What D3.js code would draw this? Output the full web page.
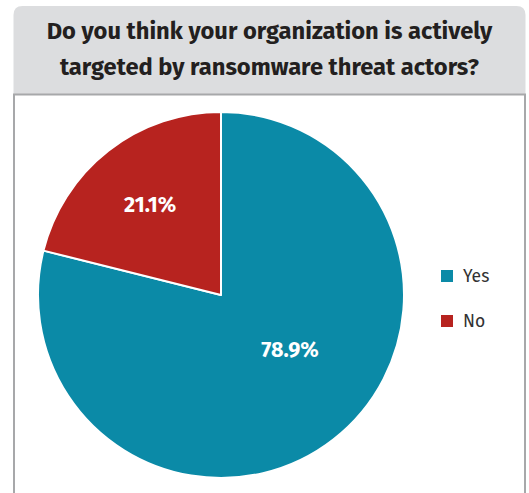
<!DOCTYPE html>
<html>
<head>
<meta charset="utf-8">
<script src="https://cdn.jsdelivr.net/npm/d3@7"></script>
<style>
  html, body { margin: 0; padding: 0; background: #ffffff; }
  svg { display: block; }
</style>
</head>
<body>
<svg id="chart" width="529" height="493"></svg>
<script>
// Survey answers and their shares (percent)
const categories = ["Yes", "No"];
const shares = [78.9, 21.1];
const titleLines = ["Do you think your organization is actively", "targeted by ransomware threat actors?"];

(function () {
  const colors = d3.scaleOrdinal().domain(categories).range(["#0b8aa7", "#b7231f"]);

  const svg = d3.select("#chart");
  const H = 493;
  const fontFamily = "'Fira Sans', 'Open Sans', 'Noto Sans', sans-serif";

  // Frame: grey title band with rounded top corners, white body with grey border
  const x0 = 13.5, x1 = 525.5, y0 = 6, bandBottom = 94, cr = 9;
  svg.append("path")
    .attr("d", `M${x0},${bandBottom} L${x0},${y0 + cr} Q${x0},${y0} ${x0 + cr},${y0} L${x1 - cr},${y0} Q${x1},${y0} ${x1},${y0 + cr} L${x1},${bandBottom} Z`)
    .attr("fill", "#dcdddf");
  svg.append("path")
    .attr("d", `M${x0 + 0.5},${H + 2} L${x0 + 0.5},${bandBottom + 0.5} L${x1 - 0.5},${bandBottom + 0.5} L${x1 - 0.5},${H + 2}`)
    .attr("fill", "none")
    .attr("stroke", "#a7a8aa")
    .attr("stroke-width", 2);

  // Title
  const title = svg.append("text")
    .attr("text-anchor", "middle")
    .attr("font-family", fontFamily)
    .attr("font-weight", 700)
    .attr("font-size", 23.7)
    .attr("fill", "#231f20");
  titleLines.forEach((line, i) => {
    title.append("tspan")
      .attr("x", (x0 + x1) / 2)
      .attr("y", 39 + i * 35.5)
      .text(line);
  });

  // Pie, starting at 12 o'clock and running clockwise
  const cx = 221, cy = 295, radius = 183;
  const pie = d3.pie().sort(null).value(d => d.value);
  const arcs = pie(categories.map((c, i) => ({ name: c, value: shares[i] })));
  const arc = d3.arc().innerRadius(0).outerRadius(radius);

  const g = svg.append("g").attr("transform", `translate(${cx},${cy})`);
  g.selectAll("path.slice")
    .data(arcs)
    .join("path")
    .attr("class", "slice")
    .attr("d", arc)
    .attr("fill", d => colors(d.data.name))
    .attr("stroke", "#ffffff")
    .attr("stroke-width", 2)
    .attr("stroke-linejoin", "round");

  // Percentage labels: small slice at its centroid, large slice pulled in
  // and turned slightly toward the chart's centre line
  function labelPos(d) {
    const big = d.endAngle - d.startAngle > Math.PI;
    const a = (d.startAngle + d.endAngle) / 2 - (big ? 0.24 : 0);
    const rr = radius * (big ? 0.48 : 0.63);
    return [rr * Math.sin(a), -rr * Math.cos(a)];
  }

  g.selectAll("text.pct")
    .data(arcs)
    .join("text")
    .attr("class", "pct")
    .attr("transform", d => `translate(${labelPos(d)})`)
    .attr("text-anchor", "middle")
    .attr("dy", "0.35em")
    .attr("font-family", fontFamily)
    .attr("font-weight", 700)
    .attr("font-size", 21.5)
    .attr("fill", "#ffffff")
    .text(d => d3.format(".1f")(d.data.value) + "%");

  // Legend
  const legend = svg.append("g").attr("transform", "translate(441,270)");
  const item = legend.selectAll("g")
    .data(categories)
    .join("g")
    .attr("transform", (d, i) => `translate(0,${i * 45})`);
  item.append("rect")
    .attr("width", 12)
    .attr("height", 12)
    .attr("fill", d => colors(d));
  item.append("text")
    .attr("x", 22)
    .attr("y", 6)
    .attr("dy", "0.35em")
    .attr("font-family", fontFamily)
    .attr("font-size", 17.5)
    .attr("fill", "#333333")
    .text(d => d);
})();
</script>
</body>
</html>
